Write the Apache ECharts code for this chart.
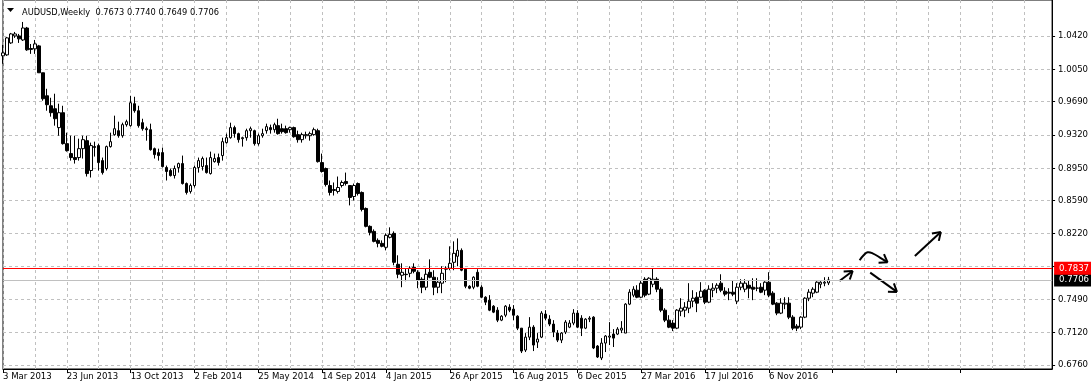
<!DOCTYPE html>
<html>
<head>
<meta charset="utf-8">
<script src="https://cdn.jsdelivr.net/npm/echarts@6/dist/echarts.min.js"></script>
<style>
html,body{margin:0;padding:0;background:#fff;}
#chart{width:1091px;height:389px;}
</style>
</head>
<body>
<div id="chart"></div>
<script>
// ---------------- data ----------------
const symbolName = 'AUDUSD,Weekly';
const firstWeek = '2013-03-03';
const slotCount = 264; // weekly slots incl. empty right-hand space

const xTickLabels = ['3 Mar 2013','23 Jun 2013','13 Oct 2013','2 Feb 2014','25 May 2014','14 Sep 2014',
  '4 Jan 2015','26 Apr 2015','16 Aug 2015','6 Dec 2015','27 Mar 2016','17 Jul 2016','6 Nov 2016'];

const yTickValues  = [0.6760,0.7120,0.7490,0.7855,0.8220,0.8590,0.8950,0.9320,0.9690,1.0050,1.0420];
const yLabelValues = [0.6760,0.7120,0.7490,0.8220,0.8590,0.8950,0.9320,0.9690,1.0050,1.0420];

const levelPrice = 0.7837;

const opens = [
1.0198,1.0209,1.0342,1.0420,1.0420,1.0375,1.0508,1.0280,1.0276,1.0309,
1.0010,0.9754,0.9643,0.9610,0.9400,0.9566,0.9222,0.9111,0.9067,0.9067,
0.9166,0.9255,0.8923,0.9189,0.9200,0.9033,0.8945,0.9189,0.9322,0.9366,
0.9310,0.9433,0.9422,0.9666,0.9588,0.9455,0.9388,0.9377,0.9166,0.9122,
0.9122,0.8956,0.8923,0.8867,0.8956,0.9000,0.8778,0.8690,0.8756,0.8956,
0.8967,0.8978,0.8889,0.9022,0.9067,0.9089,0.9233,0.9288,0.9400,0.9333,
0.9277,0.9288,0.9366,0.9366,0.9222,0.9310,0.9366,0.9400,0.9377,0.9422,
0.9388,0.9388,0.9377,0.9400,0.9322,0.9266,0.9310,0.9310,0.9322,0.9366,
0.9011,0.8945,0.8756,0.8701,0.8690,0.8756,0.8801,0.8756,0.8634,0.8778,
0.8679,0.8501,0.8302,0.8246,0.8146,0.8113,0.8069,0.8180,0.8224,0.7880,
0.7758,0.7769,0.7780,0.7847,0.7791,0.7714,0.7625,0.7791,0.7736,0.7625,
0.7670,0.7825,0.7836,0.7902,0.7969,0.8035,0.7825,0.7636,0.7625,0.7791,
0.7625,0.7514,0.7481,0.7414,0.7370,0.7259,0.7314,0.7403,0.7381,0.7303,
0.7170,0.6926,0.7070,0.7181,0.7015,0.7070,0.7326,0.7270,0.7215,0.7115,
0.7037,0.7126,0.7181,0.7226,0.7337,0.7281,0.7170,0.7270,0.7292,0.6971,
0.6838,0.7004,0.7070,0.7104,0.7104,0.7148,0.7115,0.7437,0.7536,0.7592,
0.7514,0.7714,0.7548,0.7658,0.7714,0.7603,0.7370,0.7259,0.7226,0.7170,
0.7359,0.7370,0.7392,0.7470,0.7514,0.7514,0.7592,0.7459,0.7592,0.7614,
0.7670,0.7581,0.7570,0.7570,0.7470,0.7625,0.7603,0.7647,0.7625,0.7614,
0.7625,0.7592,0.7681,0.7559,0.7448,0.7337,0.7437,0.7448,0.7292,0.7192,
0.7181,0.7292,0.7503,0.7559,0.7570,0.7658,0.7670,0.7673];

const highs = [
1.0320,1.0409,1.0453,1.0464,1.0442,1.0575,1.0520,1.0330,1.0375,1.0320,
1.0010,0.9832,0.9732,0.9777,0.9666,0.9643,0.9344,0.9310,0.9310,0.9277,
0.9310,0.9310,0.9233,0.9244,0.9222,0.9067,0.9200,0.9344,0.9533,0.9466,
0.9455,0.9488,0.9754,0.9743,0.9643,0.9499,0.9411,0.9444,0.9178,0.9166,
0.9178,0.8978,0.8945,0.8978,0.9011,0.9089,0.8790,0.8778,0.8978,0.9067,
0.9078,0.9067,0.9133,0.9111,0.9111,0.9288,0.9333,0.9455,0.9422,0.9344,
0.9299,0.9388,0.9411,0.9377,0.9333,0.9388,0.9444,0.9433,0.9455,0.9499,
0.9444,0.9422,0.9411,0.9411,0.9366,0.9344,0.9355,0.9355,0.9400,0.9388,
0.9111,0.8956,0.8812,0.8790,0.8856,0.8812,0.8900,0.8756,0.8778,0.8790,
0.8690,0.8512,0.8313,0.8268,0.8168,0.8146,0.8224,0.8291,0.8246,0.7980,
0.7891,0.7836,0.7858,0.7891,0.7814,0.7736,0.7836,0.7935,0.7814,0.7736,
0.7858,0.7858,0.8080,0.8135,0.8168,0.8057,0.7836,0.7647,0.7747,0.7825,
0.7647,0.7525,0.7537,0.7426,0.7403,0.7314,0.7426,0.7436,0.7426,0.7314,
0.7170,0.7115,0.7292,0.7203,0.7115,0.7359,0.7370,0.7314,0.7259,0.7148,
0.7126,0.7259,0.7259,0.7381,0.7370,0.7314,0.7281,0.7303,0.7303,0.6982,
0.7059,0.7093,0.7237,0.7159,0.7181,0.7248,0.7448,0.7603,0.7636,0.7647,
0.7703,0.7736,0.7736,0.7836,0.7736,0.7625,0.7392,0.7314,0.7259,0.7381,
0.7503,0.7459,0.7670,0.7592,0.7570,0.7681,0.7603,0.7647,0.7670,0.7670,
0.7769,0.7625,0.7614,0.7703,0.7670,0.7714,0.7714,0.7703,0.7725,0.7725,
0.7670,0.7692,0.7792,0.7581,0.7459,0.7503,0.7514,0.7514,0.7314,0.7215,
0.7303,0.7514,0.7603,0.7625,0.7692,0.7692,0.7736,0.7740];

const lows = [
1.0110,1.0198,1.0331,1.0398,1.0342,1.0364,1.0254,1.0220,1.0220,1.0010,
0.9699,0.9588,0.9522,0.9422,0.9310,0.9211,0.9133,0.9033,0.9000,0.9033,
0.9056,0.8856,0.8845,0.9078,0.8923,0.8878,0.8923,0.9178,0.9310,0.9288,
0.9288,0.9411,0.9411,0.9566,0.9400,0.9366,0.9255,0.9144,0.9056,0.9033,
0.8956,0.8812,0.8856,0.8834,0.8900,0.8767,0.8656,0.8667,0.8734,0.8900,
0.8923,0.8889,0.8878,0.9011,0.8978,0.9033,0.9222,0.9277,0.9288,0.9233,
0.9189,0.9255,0.9288,0.9200,0.9200,0.9288,0.9333,0.9333,0.9344,0.9322,
0.9333,0.9333,0.9344,0.9288,0.9233,0.9233,0.9277,0.9255,0.9310,0.9011,
0.8900,0.8745,0.8645,0.8645,0.8667,0.8734,0.8756,0.8535,0.8590,0.8645,
0.8468,0.8291,0.8202,0.8124,0.8069,0.8069,0.8035,0.8168,0.7869,0.7725,
0.7625,0.7692,0.7736,0.7780,0.7614,0.7559,0.7592,0.7725,0.7537,0.7559,
0.7559,0.7681,0.7814,0.7814,0.7858,0.7803,0.7614,0.7603,0.7603,0.7625,
0.7503,0.7426,0.7359,0.7337,0.7237,0.7248,0.7292,0.7348,0.7259,0.7148,
0.6893,0.6904,0.7037,0.6915,0.6949,0.7059,0.7259,0.7192,0.7070,0.7015,
0.7004,0.7104,0.7170,0.7203,0.7170,0.7082,0.7159,0.7237,0.6937,0.6838,
0.6815,0.6904,0.6982,0.6960,0.7093,0.7115,0.7115,0.7426,0.7514,0.7503,
0.7503,0.7514,0.7537,0.7625,0.7570,0.7348,0.7237,0.7170,0.7137,0.7159,
0.7303,0.7292,0.7337,0.7403,0.7348,0.7503,0.7437,0.7448,0.7514,0.7559,
0.7570,0.7525,0.7481,0.7525,0.7437,0.7592,0.7570,0.7503,0.7481,0.7581,
0.7559,0.7537,0.7514,0.7426,0.7314,0.7326,0.7381,0.7270,0.7148,0.7137,
0.7159,0.7281,0.7470,0.7514,0.7559,0.7614,0.7636,0.7649];

const closes = [
1.0231,1.0398,1.0442,1.0442,1.0387,1.0508,1.0265,1.0270,1.0331,1.0010,
0.9721,0.9655,0.9566,0.9499,0.9566,0.9222,0.9144,0.9067,0.9045,0.9166,
0.9266,0.8889,0.9200,0.9180,0.9011,0.8900,0.9189,0.9244,0.9388,0.9310,
0.9433,0.9466,0.9677,0.9588,0.9422,0.9388,0.9377,0.9155,0.9100,0.9089,
0.8967,0.8912,0.8867,0.8945,0.9000,0.8778,0.8679,0.8756,0.8956,0.9033,
0.9056,0.8900,0.9067,0.9056,0.9011,0.9244,0.9288,0.9400,0.9333,0.9266,
0.9288,0.9366,0.9388,0.9222,0.9310,0.9333,0.9411,0.9377,0.9433,0.9333,
0.9355,0.9344,0.9400,0.9299,0.9266,0.9322,0.9322,0.9333,0.9377,0.9022,
0.8912,0.8767,0.8679,0.8712,0.8734,0.8790,0.8779,0.8623,0.8756,0.8667,
0.8490,0.8302,0.8235,0.8135,0.8113,0.8080,0.8202,0.8213,0.7902,0.7769,
0.7791,0.7765,0.7836,0.7802,0.7703,0.7625,0.7769,0.7736,0.7625,0.7681,
0.7780,0.7836,0.7891,0.8002,0.8035,0.7814,0.7636,0.7614,0.7736,0.7636,
0.7514,0.7459,0.7370,0.7348,0.7259,0.7303,0.7414,0.7370,0.7314,0.7170,
0.6915,0.7070,0.7181,0.6982,0.7048,0.7337,0.7281,0.7215,0.7126,0.7037,
0.7115,0.7237,0.7226,0.7337,0.7181,0.7170,0.7270,0.7281,0.6949,0.6849,
0.7004,0.7082,0.7082,0.7059,0.7159,0.7170,0.7437,0.7570,0.7603,0.7514,
0.7670,0.7537,0.7725,0.7714,0.7603,0.7370,0.7259,0.7181,0.7170,0.7370,
0.7392,0.7403,0.7470,0.7503,0.7448,0.7581,0.7459,0.7603,0.7614,0.7647,
0.7592,0.7548,0.7559,0.7548,0.7625,0.7670,0.7670,0.7614,0.7603,0.7616,
0.7570,0.7681,0.7537,0.7437,0.7337,0.7448,0.7448,0.7292,0.7170,0.7170,
0.7292,0.7503,0.7570,0.7603,0.7681,0.7681,0.7681,0.7706];

// hand-drawn arrow annotations, in (week index, price) coordinates
const arrowPaths = [
  [[209.7,0.7695],[213.0,0.7806]],
  [[214.75,0.7925],[215.75,0.7980],[216.75,0.8013],[218.0,0.8002],[219.75,0.7958],[221.75,0.7902]],
  [[217.4,0.7788],[224.1,0.7573]],
  [[228.6,0.7972],[235.1,0.8238]]
];

// ---------------- build ----------------
const FONT = "'DejaVu Sans Condensed','DejaVu Sans',sans-serif";
const LABEL_STEP = 16;
const categories = [];
{
  const d0 = new Date(firstWeek + 'T00:00:00Z');
  for (let i = 0; i < slotCount; i++) {
    const d = new Date(d0.getTime() + i * 7 * 86400000);
    categories.push(d.toISOString().slice(0, 10));
  }
}
const categoryIndex = {};
categories.forEach((c, i) => { categoryIndex[c] = i; });
const candleData = opens.map((o, i) => [o, closes[i], lows[i], highs[i]]);
const last = opens.length - 1;
const header = symbolName + '  ' + [opens[last], highs[last], lows[last], closes[last]].map(v => v.toFixed(4)).join(' ');

function xLabelFor(value) {
  const i = categoryIndex[value];
  if (i === undefined || i % LABEL_STEP !== 0) return '';
  return xTickLabels[i / LABEL_STEP] || '';
}

function priceLineSeries(value, lineColor, boxColor) {
  return {
    type: 'line', data: [], silent: true, z: 5,
    markLine: {
      silent: true, symbol: ['none', 'none'], animation: false, precision: 4,
      lineStyle: {color: lineColor, type: 'solid', width: 1},
      label: {show: true, position: 'end', distance: 2, formatter: (p) => Number(p.value).toFixed(4),
        backgroundColor: boxColor, color: '#ffffff', fontFamily: FONT, fontSize: 9.5, padding: [2, 6, 1, 5]},
      emphasis: {disabled: true},
      data: [{yAxis: value}]
    }
  };
}

const chart = echarts.init(document.getElementById('chart'), null, {renderer: 'canvas'});

chart.setOption({
  animation: false,
  backgroundColor: '#ffffff',
  title: {
    text: header,
    left: 17, top: 3,
    textStyle: {fontFamily: FONT, fontSize: 9.2, fontWeight: 'normal', color: '#000'}
  },
  grid: {left: 3, right: 36, top: -1, bottom: 20, show: true, borderColor: '#000', borderWidth: 1, backgroundColor: '#fff'},
  xAxis: {
    type: 'category',
    data: categories,
    boundaryGap: false,
    axisLine: {show: true, lineStyle: {color: '#000', width: 1}},
    axisTick: {show: true, length: 4, interval: LABEL_STEP - 1, lineStyle: {color: '#000'}},
    axisLabel: {
      interval: LABEL_STEP - 1,
      formatter: (v) => xLabelFor(v),
      align: 'left', margin: 3, color: '#000', fontFamily: FONT, fontSize: 9.5,
      showMinLabel: true, showMaxLabel: false, hideOverlap: false
    },
    splitLine: {show: true, interval: 7, lineStyle: {color: '#c0c0c0', width: 1, type: [3, 3]}}
  },
  yAxis: {
    type: 'value',
    position: 'right',
    min: 0.67156, max: 1.08193,
    axisLine: {show: true, lineStyle: {color: '#000', width: 1}},
    axisTick: {show: true, length: 3, customValues: yTickValues, lineStyle: {color: '#000'}},
    axisLabel: {customValues: yLabelValues, formatter: (v) => v.toFixed(4), margin: 6, color: '#000', fontFamily: FONT, fontSize: 9.5},
    splitLine: {show: true, lineStyle: {color: '#c0c0c0', width: 1, type: [3, 3]}}
  },
  series: [
    {
      type: 'candlestick',
      data: candleData,
      barWidth: 3,
      itemStyle: {color: '#ffffff', color0: '#000000', borderColor: '#000000', borderColor0: '#000000', borderWidth: 1}
    },
    priceLineSeries(closes[last], '#c0c0c0', '#000000'),
    priceLineSeries(levelPrice, '#ff0000', '#ff0000')
  ]
});

// arrows + header triangle
function px(i, price) {
  const a = chart.convertToPixel({xAxisIndex: 0}, 0);
  const b = chart.convertToPixel({xAxisIndex: 0}, 1);
  const y = chart.convertToPixel({yAxisIndex: 0}, price);
  return [a + (b - a) * i, y];
}
const graphics = [{
  type: 'polygon', shape: {points: [[7, 8], [14, 8], [10.5, 12]]}, style: {fill: '#000'}
}];
arrowPaths.forEach((path) => {
  const pts = path.map(p => px(p[0], p[1]));
  graphics.push({type: 'polyline', shape: {points: pts, smooth: pts.length > 2 ? 0.4 : 0},
    style: {stroke: '#000', lineWidth: 2, fill: null}});
  const tip = pts[pts.length - 1], prev = pts[pts.length - 2];
  const ang = Math.atan2(tip[1] - prev[1], tip[0] - prev[0]) + Math.PI;
  const L = 9, spread = 0.6;
  [ang - spread, ang + spread].forEach(a => {
    graphics.push({type: 'line', shape: {x1: tip[0], y1: tip[1], x2: tip[0] + L * Math.cos(a), y2: tip[1] + L * Math.sin(a)},
      style: {stroke: '#000', lineWidth: 2}});
  });
});
chart.setOption({graphic: graphics});
</script>
</body>
</html>
